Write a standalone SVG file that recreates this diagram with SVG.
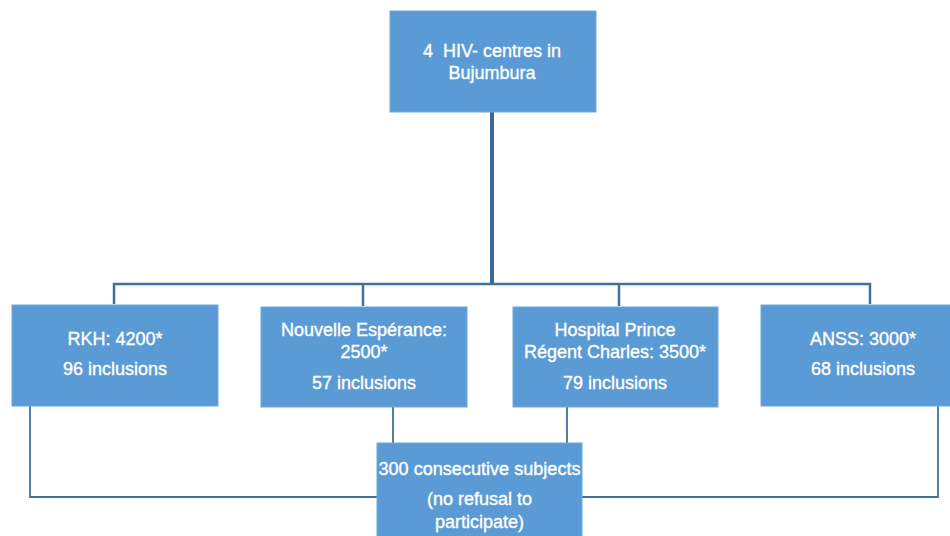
<svg xmlns="http://www.w3.org/2000/svg" width="950" height="536" viewBox="0 0 950 536">
<style>
.box{fill:#5b9bd5;stroke:#6fa7da;stroke-width:1}
.t{font-family:"Liberation Sans",Arial,sans-serif;font-size:18px;fill:#ffffff;stroke:#ffffff;stroke-width:0.35;text-anchor:middle}
.ln{fill:none;stroke:#41719c;stroke-width:2.5}
.thin{fill:none;stroke:#41719c;stroke-width:1.8}
</style>
<rect width="950" height="536" fill="#ffffff"/>
<g id="connectors">
<line x1="492" y1="112" x2="492" y2="285" stroke="#3a6a9a" stroke-width="4"/>
<polyline class="ln" points="114,304 114,284 870,284 870,304"/>
<line class="ln" x1="363" y1="284" x2="363" y2="306"/>
<line class="ln" x1="619" y1="284" x2="619" y2="306"/>
<line class="thin" x1="393" y1="407" x2="393" y2="443"/>
<line class="thin" x1="567" y1="407" x2="567" y2="443"/>
<polyline class="thin" points="30,406 30,497 377,497"/>
<polyline class="thin" points="938,406 938,497 582,497"/>
</g>
<g id="top">
<rect class="box" x="390" y="11" width="206" height="101"/>
<text class="t" x="492" y="57" xml:space="preserve">4  HIV- centres in</text>
<text class="t" x="492" y="79">Bujumbura</text>
</g>
<g id="rkh">
<rect class="box" x="12" y="305" width="206" height="101"/>
<text class="t" x="115" y="345">RKH: 4200*</text>
<text class="t" x="115" y="375">96 inclusions</text>
</g>
<g id="nouvelle">
<rect class="box" x="261" y="307" width="206" height="100"/>
<text class="t" x="364" y="336">Nouvelle Espérance:</text>
<text class="t" x="364" y="358">2500*</text>
<text class="t" x="364" y="389">57 inclusions</text>
</g>
<g id="hospital">
<rect class="box" x="513" y="307" width="205" height="100"/>
<text class="t" x="615" y="336">Hospital Prince</text>
<text class="t" x="615" y="358">Régent Charles: 3500*</text>
<text class="t" x="615" y="389">79 inclusions</text>
</g>
<g id="anss">
<rect class="box" x="761" y="305" width="210" height="101"/>
<text class="t" x="863" y="345">ANSS: 3000*</text>
<text class="t" x="863" y="375">68 inclusions</text>
</g>
<g id="subjects">
<rect class="box" x="377" y="443" width="205" height="100"/>
<text class="t" x="479.5" y="475" textLength="202" lengthAdjust="spacingAndGlyphs">300 consecutive subjects</text>
<text class="t" x="479.5" y="505">(no refusal to</text>
<text class="t" x="479.5" y="528">participate)</text>
</g>
</svg>
